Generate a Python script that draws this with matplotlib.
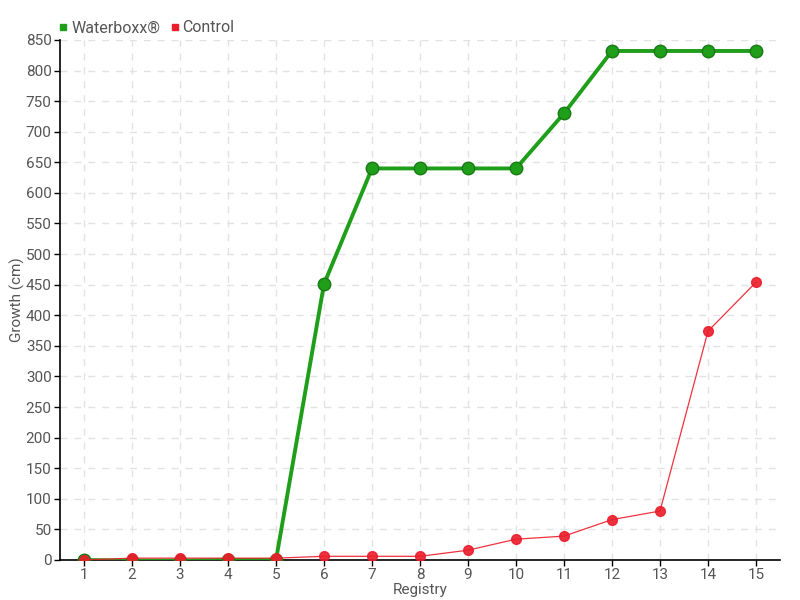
import matplotlib
matplotlib.use("Agg")
import matplotlib.pyplot as plt
from matplotlib.lines import Line2D

registry = list(range(1, 16))
waterboxx = [0, -1, -1, 0, 0, 451, 640, 640, 640, 640, 730, 832, 832, 832, 832]
control = [0, 3, 3, 3, 3, 6, 6, 6, 16, 34, 39, 66, 80, 374, 454]

green = "#1f9e1a"
red = "#ec1c2a"
text_color = "#555555"

plt.rcParams["font.family"] = ["Roboto", "DejaVu Sans"]

fig = plt.figure(figsize=(8, 6), dpi=100)
ax = fig.add_axes([0.075, 0.0667, 0.9, 0.8667])

ax.plot(registry, waterboxx, color=green, linewidth=2.8, marker="o", markersize=9,
        markerfacecolor=green, markeredgecolor="#177a14", markeredgewidth=1, zorder=3)
ax.plot(registry, control, color=red, linewidth=0.9, alpha=0.9, marker="o", markersize=7,
        markerfacecolor=red, markeredgecolor=red, zorder=4)

ax.set_xlim(0.5, 15.5)
ax.set_ylim(0, 850)
ax.set_xticks(registry)
ax.set_yticks(range(0, 851, 50))
ax.grid(True, color="#e2e2e2", linestyle=(0, (5, 5)), linewidth=1)
ax.set_axisbelow(True)

for side in ["top", "right"]:
    ax.spines[side].set_visible(False)
for side in ["left", "bottom"]:
    ax.spines[side].set_color("black")
    ax.spines[side].set_linewidth(1.2)

ax.tick_params(axis="both", colors="black", labelcolor=text_color, labelsize=11,
               length=4, width=1, pad=2)

ax.set_xlabel("Registry", color=text_color, fontsize=11)
ax.set_ylabel("Growth (cm)", color=text_color, fontsize=11)
ax.xaxis.set_label_coords(0.5, -0.045)
ax.yaxis.set_label_coords(-0.048, 0.5)

handles = [
    Line2D([], [], linestyle="none", marker="s", markersize=5, color=green, label="Waterboxx®"),
    Line2D([], [], linestyle="none", marker="s", markersize=5, color=red, label="Control"),
]
fig.legend(handles=handles, loc="upper left", bbox_to_anchor=(0.053, 0.99), ncol=2,
           frameon=False, fontsize=11.5, handletextpad=0.1, columnspacing=0.5,
           handlelength=0.8, labelcolor=text_color)

fig.savefig("out.png", dpi=100)
